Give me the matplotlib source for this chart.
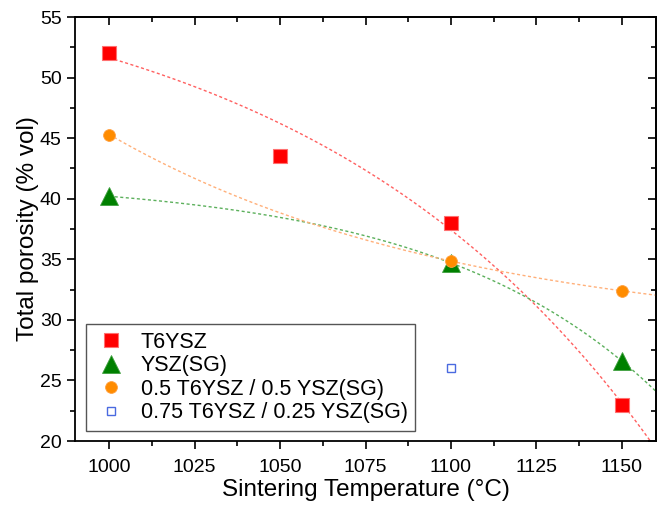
import numpy as np
import matplotlib
matplotlib.use("Agg")
import matplotlib.pyplot as plt
from matplotlib.ticker import MultipleLocator

temps_t6 = [1000, 1050, 1100, 1150]
poro_t6 = [52.0, 43.5, 38.0, 23.0]
temps_ysz = [1000, 1100, 1150]
poro_ysz = [40.2, 34.7, 26.6]
temps_mix50 = [1000, 1100, 1150]
poro_mix50 = [45.3, 34.85, 32.4]
temps_mix75 = [1100]
poro_mix75 = [26.0]

# fit weights for the T6YSZ trend line (1050 point counts less)
weights_t6 = [1.0, 0.3, 1.0, 1.0]

labels = ["T6YSZ", "YSZ(SG)", "0.5 T6YSZ / 0.5 YSZ(SG)", "0.75 T6YSZ / 0.25 YSZ(SG)"]
x_ticks = [1000, 1025, 1050, 1075, 1100, 1125, 1150]
y_ticks = [20, 25, 30, 35, 40, 45, 50, 55]


def exp_fit(x, y, x_new, w=None):
    """
    Fits y = a + b*exp(k*(x - 1000)), k by a plain grid search, a and b by weighted least squares
    """
    x = np.asarray(x, float)
    y = np.asarray(y, float)
    sw = np.sqrt(np.ones_like(x) if w is None else np.asarray(w, float))
    best = None
    for k in np.linspace(-0.08, 0.08, 3201):
        if abs(k) < 1e-6:
            continue
        A = np.column_stack([np.ones_like(x), np.exp(k * (x - 1000))])
        coef, *_ = np.linalg.lstsq(A * sw[:, None], y * sw, rcond=None)
        err = np.sum(((A @ coef - y) * sw) ** 2)
        if best is None or err < best[0]:
            best = (err, k, coef)
    _, k, (a, b) = best
    return a + b * np.exp(k * (x_new - 1000))


plt.rcParams['font.family'] = ['Liberation Sans', 'DejaVu Sans']

fig = plt.figure(figsize=(6.57, 5.13), dpi=100)
ax = fig.add_axes([75 / 657, 72 / 513, 581 / 657, 424 / 513])

xs = np.linspace(1000, 1160, 400)
dash = (0, (2.2, 1.8))
ax.plot(xs, exp_fit(temps_t6, poro_t6, xs, weights_t6), color='#ff6060', lw=1.0, ls=dash, zorder=2)
ax.plot(xs, exp_fit(temps_ysz, poro_ysz, xs), color='#5cb05c', lw=1.0, ls=dash, zorder=2)
ax.plot(xs, exp_fit(temps_mix50, poro_mix50, xs), color='#ffb07a', lw=1.0, ls=dash, zorder=2)

ax.plot(temps_t6, poro_t6, ls='none', marker='s', ms=9.5, color='#ff0000',
        mec='#ff7070', mew=0.8, label=labels[0], zorder=3)
ax.plot(temps_ysz, poro_ysz, ls='none', marker='^', ms=13.5, color='#008000',
        mec='#40a040', mew=0.6, label=labels[1], zorder=3)
ax.plot(temps_mix50, poro_mix50, ls='none', marker='o', ms=8.5, color='#ff8c00',
        mec='#ffa040', mew=0.6, label=labels[2], zorder=4)
ax.plot(temps_mix75, poro_mix75, ls='none', marker='s', ms=6, mfc='none',
        mec='#4a6ae0', mew=1.0, label=labels[3], zorder=3)

ax.set_xlim(990, 1160)
ax.set_ylim(20, 55)
ax.set_xticks(x_ticks)
ax.set_yticks(y_ticks)
ax.xaxis.set_minor_locator(MultipleLocator(12.5))
ax.yaxis.set_minor_locator(MultipleLocator(2.5))
ax.tick_params(which='major', direction='out', length=6, width=1.2, labelsize=14, colors='black')
ax.tick_params(which='minor', direction='out', length=3.5, width=1.2)
ax.tick_params(axis='x', pad=7)

for side in ['top', 'right', 'bottom', 'left']:
    ax.spines[side].set_linewidth(1.3)

# Inward ticks on top and right, no labels
secx = ax.secondary_xaxis('top')
secx.set_xticks(x_ticks)
secx.xaxis.set_minor_locator(MultipleLocator(12.5))
secx.tick_params(which='major', direction='in', length=6, width=1.2, labeltop=False)
secx.tick_params(which='minor', direction='in', length=3.5, width=1.2)
secx.spines['top'].set_linewidth(1.3)
secy = ax.secondary_yaxis('right')
secy.set_yticks(y_ticks)
secy.yaxis.set_minor_locator(MultipleLocator(2.5))
secy.tick_params(which='major', direction='in', length=6, width=1.2, labelright=False)
secy.tick_params(which='minor', direction='in', length=3.5, width=1.2)
secy.spines['right'].set_linewidth(1.3)

ax.set_xlabel("Sintering Temperature (°C)", fontsize=17.5, labelpad=2)
ax.set_ylabel("Total porosity (% vol)", fontsize=17.5, labelpad=1)

leg = ax.legend(loc='lower left', bbox_to_anchor=(0.019, 0.024), borderaxespad=0,
                fontsize=15.5, frameon=True, fancybox=False, edgecolor='#555555',
                framealpha=1, labelspacing=0.12, handletextpad=0.6, borderpad=0.35,
                handlelength=1.6)
leg.get_frame().set_linewidth(1.0)

fig.savefig("out.png", dpi=100)
